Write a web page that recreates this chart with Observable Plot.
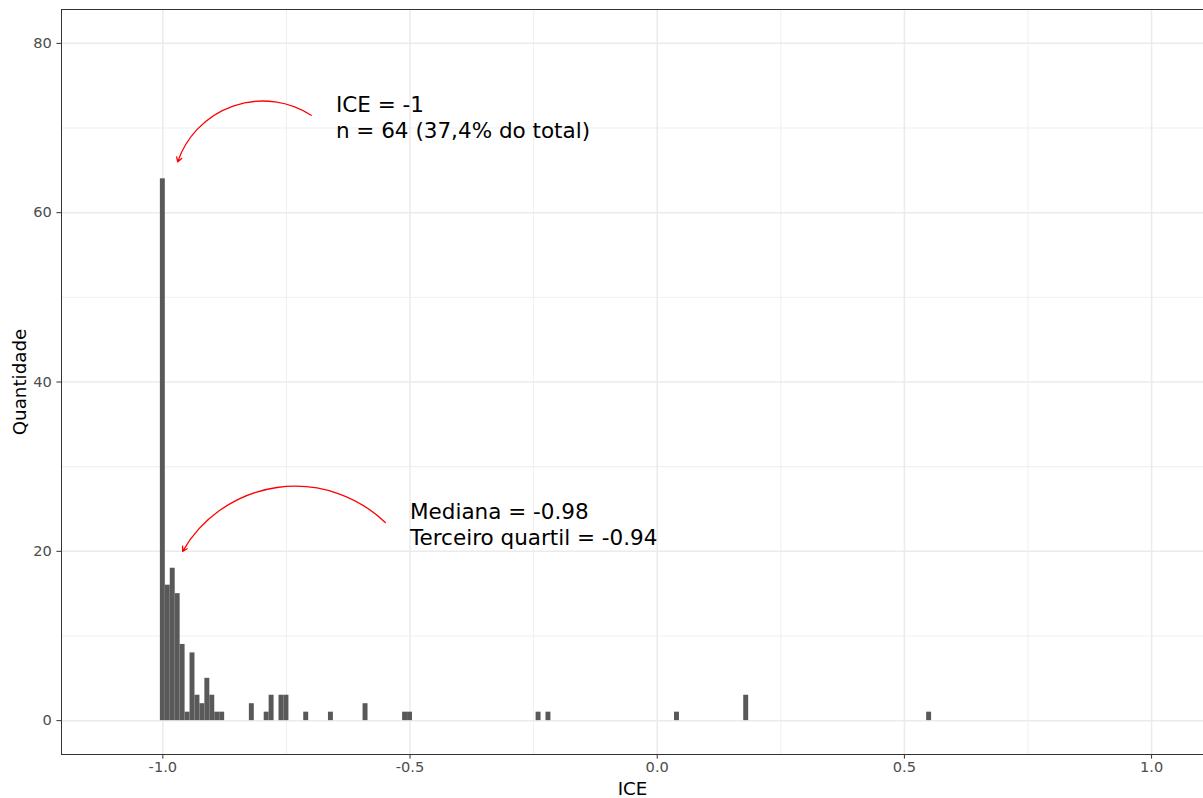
<!DOCTYPE html>
<html><head><meta charset="utf-8">
<script src="https://cdn.jsdelivr.net/npm/d3@7"></script>
<script src="https://cdn.jsdelivr.net/npm/@observablehq/plot@0.6"></script>
<style>body{margin:0;background:#fff} svg{display:block}</style>
</head><body><div id="chart"></div>
<script>
// Histogram bins (binwidth 0.01, centred on the value)
const binCenters = [-1.00,-0.99,-0.98,-0.97,-0.96,-0.95,-0.94,-0.93,-0.92,-0.91,-0.90,-0.89,-0.88,
  -0.82,-0.79,-0.78,-0.76,-0.75,-0.71,-0.66,-0.59,-0.51,-0.50,-0.24,-0.22,0.04,0.18,0.55];
const binCounts  = [64,16,18,15,9,1,8,3,2,5,3,1,1,
  2,1,3,3,3,1,1,2,1,1,1,1,1,3,1];
const binWidth = 0.01;

const xTicks = [-1, -0.5, 0, 0.5, 1];
const xMinor = [-0.75, -0.25, 0.25, 0.75];
const yTicks = [0, 20, 40, 60, 80];
const yMinor = [10, 30, 50, 70];

const annotationLabels = ["ICE = -1\nn = 64 (37,4% do total)", "Mediana = -0.98\nTerceiro quartil = -0.94"];
const annotationX = [-0.65, -0.50];
const annotationY = [71.3, 23.3];

const arrowX1 = [-0.70, -0.55];
const arrowY1 = [71.5, 23.4];
const arrowX2 = [-0.97, -0.96];
const arrowY2 = [66, 20];

const bins = binCenters.map((c, i) => ({x1: c - binWidth / 2, x2: c + binWidth / 2, count: binCounts[i]}));
const idx2 = [0, 1];

const grid = "#EBEBEB";
const chart = Plot.plot({
  width: 1203, height: 798,
  marginLeft: 61, marginRight: 0, marginTop: 9, marginBottom: 44,
  x: {domain: [-1.205, 1.105]},
  y: {domain: [-4, 84]},
  style: {fontFamily: "DejaVu Sans", background: "#fff"},
  marks: [
    Plot.gridX(xMinor, {stroke: grid, strokeOpacity: 1, strokeWidth: 0.8}),
    Plot.gridY(yMinor, {stroke: grid, strokeOpacity: 1, strokeWidth: 0.8}),
    Plot.gridX(xTicks, {stroke: grid, strokeOpacity: 1, strokeWidth: 1.5}),
    Plot.gridY(yTicks, {stroke: grid, strokeOpacity: 1, strokeWidth: 1.5}),
    Plot.rectY(bins, {x1: "x1", x2: "x2", y: "count", fill: "#595959"}),
    Plot.axisX(xTicks, {tickFormat: d => d.toFixed(1), tickSize: 4.6, tickPadding: 2.5,
      stroke: "#333333", fill: "#4D4D4D", fontSize: 14.6, label: null}),
    Plot.axisY(yTicks, {tickFormat: d => String(d), tickSize: 4.6, tickPadding: 5,
      stroke: "#333333", fill: "#4D4D4D", fontSize: 14.6, label: null}),
    Plot.text(["ICE"], {frameAnchor: "bottom", dy: 35, lineAnchor: "middle", textAnchor: "middle", fontSize: 18.3, fill: "black"}),
    Plot.text(["Quantidade"], {frameAnchor: "left", dx: -41, rotate: -90, textAnchor: "middle", lineAnchor: "middle", fontSize: 18.3, fill: "black"}),
    Plot.text(idx2, {x: i => annotationX[i], y: i => annotationY[i], text: i => annotationLabels[i],
      textAnchor: "start", lineAnchor: "middle", lineHeight: 1.2, fontSize: 21.5, fill: "black"}),
    Plot.arrow(idx2, {x1: i => arrowX1[i], y1: i => arrowY1[i], x2: i => arrowX2[i], y2: i => arrowY2[i],
      bend: -52, stroke: "red", strokeWidth: 1.3, headLength: 6}),
    Plot.frame({stroke: "#333333", strokeWidth: 1})
  ]
});
document.getElementById("chart").appendChild(chart);
</script>
</body></html>
